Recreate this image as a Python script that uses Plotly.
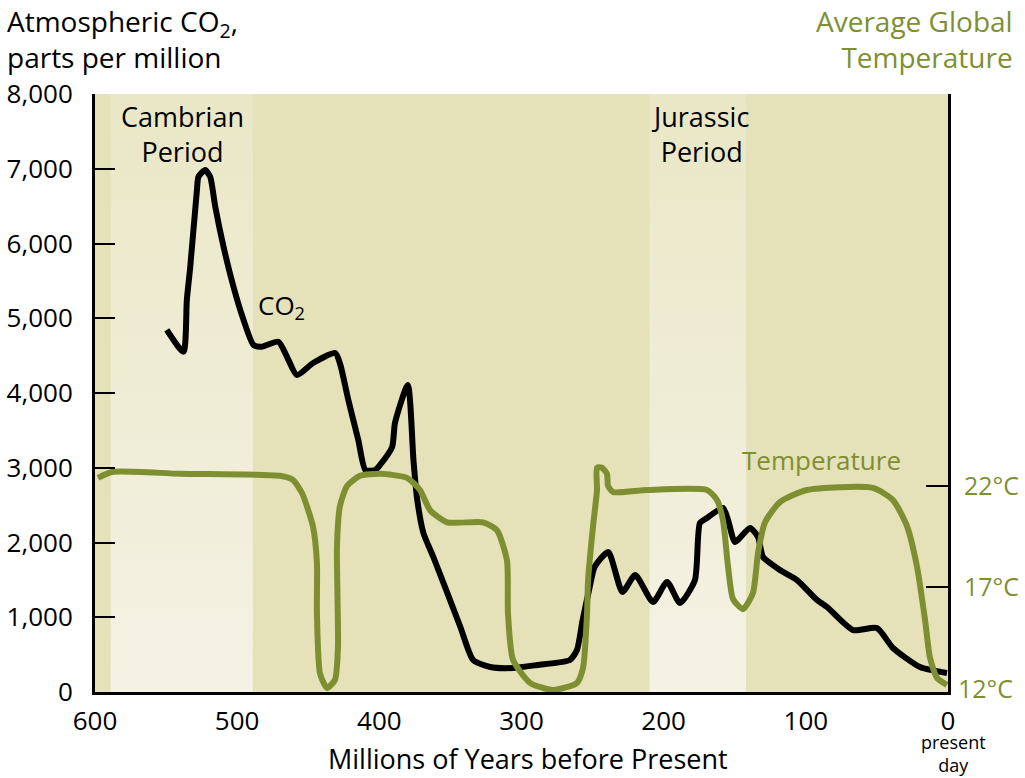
import plotly.graph_objects as go

# CO2, ppm (millions of years before present)
co2_myr = [549.5, 537.8, 535.4, 533, 528.3, 527.2, 522.5, 519, 515.4, 509.6, 502.6, 495.5,
           488.5, 482.7, 471, 465, 458, 446.6, 431, 427.4, 421.8, 414.8, 409.8, 402.8,
           399.5, 391, 389, 380, 376, 373.6, 369, 362, 343, 334, 322, 306, 289, 266,
           261, 257, 252, 248.6, 239, 229, 220, 207.5, 197.6, 188.5, 178, 174.5, 169.5,
           158.3, 154.7, 149.8, 139.3, 133.6, 130.1, 118.2, 106.2, 92.1, 85.1, 66.8, 50,
           38.7, 19.7, 0.7]
co2_ppm = [4843, 4552, 5244, 5690, 6716, 6894, 6983, 6894, 6492, 5957, 5422, 4977,
           4642, 4619, 4686, 4486, 4241, 4401, 4535, 4375, 3906, 3371, 2970, 2970,
           3037, 3278, 3599, 4107, 3104, 2609, 2127, 1806, 870, 428, 334, 321, 361, 428,
           562, 963, 1405, 1672, 1873, 1338, 1565, 1204, 1472, 1191, 1498, 2261, 2328,
           2462, 2301, 2007, 2194, 2074, 1806, 1632, 1498, 1231, 1137, 829, 856,
           589, 334, 254]

# average global temperature, deg C
temp_myr = [597.9, 587.3, 540.2, 469.9, 460.8, 454.4, 446.7, 443.9, 443.9, 441.7, 436.8,
            431.2, 429.1, 429.8, 427.7, 422.7, 413.6, 399.5, 380.5, 371.4, 364.3, 352.4,
            327.1, 317.2, 310.2, 309.5, 306, 294, 277.8, 261, 256.7, 253.9, 253.2, 249.7,
            246.9, 246.9, 243.4, 239.9, 239.1, 235.6, 211.7, 169.5, 162.5, 158.3, 154.7,
            151.2, 144.2, 137.2, 133.6, 128.7, 118.2, 99.2, 52.8, 38.7, 28.8, 21.8, 16.2,
            12.7, 7.7, 0.7]
temp_c = [22.4, 22.7, 22.6, 22.5, 22.3, 21.65, 20.0, 18.2, 15.7, 12.7, 12.0,
          12.4, 14.0, 19.0, 21.0, 22.0, 22.5, 22.6, 22.4, 21.8, 20.8, 20.2,
          20.2, 19.8, 18.3, 15.7, 13.4, 12.25, 11.9, 12.25, 13.0, 15.7, 17.3, 20.0,
          21.8, 22.9, 22.9, 22.6, 22.0, 21.7, 21.8, 21.8, 21.3, 20.3, 18.0,
          16.4, 15.9, 16.7, 18.7, 20.2, 21.2, 21.8, 21.9, 21.3, 20.0, 18.0, 15.4,
          13.5, 12.5, 12.15]

periods = ["Cambrian<br>Period", "Jurassic<br>Period"]
period_start = [589, 210]
period_end = [489, 142]

x_ticks = [600, 500, 400, 300, 200, 100, 0]
co2_ticks = [0, 1000, 2000, 3000, 4000, 5000, 6000, 7000, 8000]
temp_ticks = [17, 22]
temp_labels = ["17°C", "22°C"]

GREEN = "#7e8f32"
BG = "#e5e1b9"
FONT = "Open Sans"

fig = go.Figure()

# lighter bands for the two periods
for s, e in zip(period_start, period_end):
    fig.add_trace(go.Scatter(
        x=[s, e, e, s, s], y=[0, 0, 8000, 8000, 0],
        mode="lines", line=dict(width=0), fill="toself",
        fillgradient=dict(type="vertical",
                          colorscale=[[0, "#f4f2e4"], [1, "#eae7c6"]]),
        hoverinfo="skip", showlegend=False))

fig.add_trace(go.Scatter(
    x=co2_myr, y=co2_ppm, mode="lines",
    line=dict(color="black", width=6, shape="spline", smoothing=0.6),
    showlegend=False))

fig.add_trace(go.Scatter(
    x=temp_myr, y=temp_c, yaxis="y2", mode="lines",
    line=dict(color=GREEN, width=6, shape="spline", smoothing=0.6),
    showlegend=False))

fig.update_layout(
    width=1025, height=778,
    margin=dict(l=95, r=77, t=94, b=86),
    paper_bgcolor="white", plot_bgcolor=BG,
    font=dict(family=FONT, size=22, color="black"),
    xaxis=dict(range=[600, 0], tickvals=x_ticks, ticks="", showgrid=False,
               zeroline=False, showline=True, linecolor="black", linewidth=3,
               tickfont=dict(size=26), ticklabelstandoff=4, automargin=False),
    yaxis=dict(range=[0, 8000], tickvals=co2_ticks, tickformat=",", ticks="inside",
               ticklen=20, tickwidth=2, tickcolor="black", showgrid=False,
               zeroline=False, showline=True, linecolor="black", linewidth=3,
               tickfont=dict(size=26), ticklabelstandoff=14, automargin=False),
    yaxis2=dict(range=[11.8, 41.4], overlaying="y", side="right",
                tickvals=temp_ticks, ticktext=temp_labels, ticks="inside",
                ticklen=22, tickwidth=2, tickcolor="black", showgrid=False,
                zeroline=False, showline=True, linecolor="black", linewidth=3,
                tickfont=dict(size=25, color=GREEN), ticklabelstandoff=8,
                automargin=False),
)

def label(text, x, y, size=26, color="black", xa="center", ya="middle", align="center"):
    fig.add_annotation(text=text, x=x, y=y, xref="paper", yref="paper",
                       showarrow=False, xanchor=xa, yanchor=ya, align=align,
                       font=dict(family=FONT, size=size, color=color))

label("Atmospheric CO<sub>2</sub>,<br>parts per million", -0.106, 1.157, size=28, xa="left", ya="top", align="left")
label("Average Global<br>Temperature", 1.078, 1.157, size=28, color=GREEN, xa="right", ya="top", align="right")
label(periods[0], 0.103, 0.997, size=27, ya="top")
label(periods[1], 0.709, 0.997, size=27, ya="top")
label("CO<sub>2</sub>", 0.219, 0.645)
label("Temperature", 0.852, 0.388, color=GREEN)
label("12°C", 1.078, 0.007, size=25, color=GREEN, xa="right")
label("Millions of Years before Present", 0.508, -0.112, size=27)
label("present<br>day", 1.006, -0.103, size=18)

fig.write_html("out.html", config={"displayModeBar": False},
               post_script="document.body.style.margin='0px';")
